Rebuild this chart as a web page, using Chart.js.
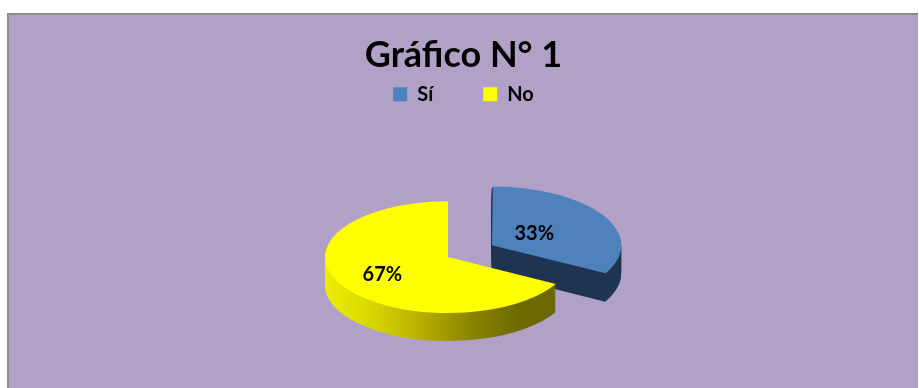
<!DOCTYPE html>
<html lang="es">
<head>
<meta charset="utf-8">
<title>Gráfico N° 1</title>
<script src="https://cdn.jsdelivr.net/npm/chart.js@4.4.1/dist/chart.umd.min.js"></script>
<style>
  html, body { margin: 0; padding: 0; background: #fff; }
  #frame {
    position: absolute;
    left: 7px;
    top: 13px;
    width: 909px;
    height: 375px;
    background: #b2a1c7;
    border-top: 2px solid #8c8c8c;
    border-left: 2px solid #8c8c8c;
  }
  #grafico { display: block; }
</style>
</head>
<body>
<div id="frame"><canvas id="grafico" width="909" height="373"></canvas></div>
<script>
const categories = ['Sí', 'No'];
const percentages = [33, 67];
const topColors = ['#4f81bd', '#ffff00'];
// side walls: one shade = flat fill, several = left-to-right gradient
const wallShades = [
    ['#1f3552'],
    ['#eeee00', '#d6d600', '#b3ad00', '#888300', '#6d6800', '#6b6600'],
];
const explode = [204, 0];
const labelReach = [0.4, 0.62];

// wedge outline of an arc element, same geometry ArcElement.draw uses
function wedgePath(ctx, arc) {
    const p = arc.getProps(['x', 'y', 'startAngle', 'endAngle', 'outerRadius', 'circumference']);
    const off = (arc.options.offset || 0) / 4;
    const mid = (p.startAngle + p.endAngle) / 2;
    const ox = p.x + Math.cos(mid) * off;
    const oy = p.y + Math.sin(mid) * off;
    const r = p.outerRadius + off * (1 - Math.sin(Math.min(Math.PI, p.circumference)));
    ctx.beginPath();
    ctx.moveTo(ox, oy);
    ctx.arc(ox, oy, r, p.startAngle, p.endAngle);
    ctx.closePath();
    return { ox, oy, r, mid };
}

// flat pie -> tilted disc: squash around the pie centre
function tiltTransform(chart, opts) {
    const area = chart.chartArea;
    const cx = (area.left + area.right) / 2;
    const cy = (area.top + area.bottom) / 2;
    return {
        apply(ctx) {
            ctx.translate(cx + opts.shiftX, cy + opts.shiftY);
            ctx.scale(1, opts.tilt);
            ctx.translate(-cx, -cy);
        },
        point(x, y) {
            return [cx + opts.shiftX + (x - cx), cy + opts.shiftY + (y - cy) * opts.tilt];
        },
    };
}

const pie3d = {
    id: 'pie3d',
    beforeDatasetsDraw(chart, args, opts) {
        const ctx = chart.ctx;
        const tilt = tiltTransform(chart, opts);
        chart.getDatasetMeta(0).data.forEach((arc, i) => {
            const shades = wallShades[i];
            for (let d = opts.depth; d > 0; d--) {
                ctx.save();
                ctx.translate(0, d);
                tilt.apply(ctx);
                const g = wedgePath(ctx, arc);
                if (shades.length > 1) {
                    const grad = ctx.createLinearGradient(g.ox - g.r, 0, g.ox + g.r, 0);
                    shades.forEach((c, k) => grad.addColorStop(k / (shades.length - 1), c));
                    ctx.fillStyle = grad;
                } else {
                    ctx.fillStyle = shades[0];
                }
                ctx.fill();
                ctx.restore();
            }
            ctx.save();
            tilt.apply(ctx);
            arc.draw(ctx);
            ctx.restore();
        });
        return false;
    },
    afterDraw(chart, args, opts) {
        const ctx = chart.ctx;
        const tilt = tiltTransform(chart, opts);
        ctx.save();
        ctx.font = 'bold 20px Lato';
        ctx.fillStyle = '#000';
        ctx.textAlign = 'center';
        ctx.textBaseline = 'middle';
        chart.getDatasetMeta(0).data.forEach((arc, i) => {
            const p = arc.getProps(['x', 'y', 'startAngle', 'endAngle', 'outerRadius']);
            const off = (arc.options.offset || 0) / 4;
            const mid = (p.startAngle + p.endAngle) / 2;
            const reach = off + p.outerRadius * labelReach[i];
            const [sx, sy] = tilt.point(p.x + Math.cos(mid) * reach, p.y + Math.sin(mid) * reach);
            ctx.fillText(percentages[i] + '%', sx, sy);
        });
        ctx.restore();
    }
};

new Chart(document.getElementById('grafico'), {
    type: 'pie',
    data: {
        labels: categories,
        datasets: [{
            data: percentages,
            backgroundColor: topColors,
            borderWidth: 0,
            offset: explode,
            hoverOffset: 0,
            radius: 123,
        }],
    },
    options: {
        responsive: false,
        animation: false,
        events: [],
        layout: { padding: { bottom: 28 } },
        plugins: {
            title: {
                display: true,
                text: 'Gráfico N° 1',
                color: '#000',
                font: { family: 'Lato', weight: 'bold', size: 36 },
                padding: { top: 19, bottom: -43 },
            },
            legend: {
                position: 'top',
                labels: {
                    color: '#000',
                    font: { family: 'Lato', weight: 'bold', size: 20 },
                    boxWidth: 14,
                    boxHeight: 14,
                    padding: 50,
                },
            },
            tooltip: { enabled: false },
            pie3d: { tilt: 0.455, depth: 28, shiftX: -15.5, shiftY: 20 },
        },
    },
    plugins: [pie3d],
});
</script>
</body>
</html>
